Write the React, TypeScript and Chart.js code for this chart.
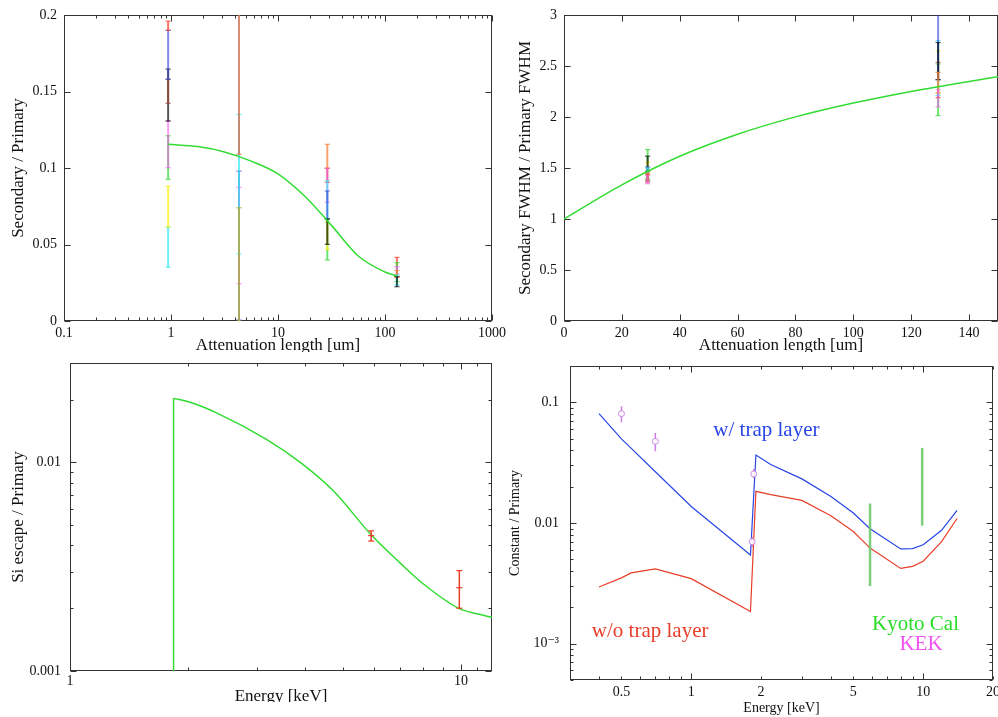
import { useEffect, useRef } from 'react';
import { Chart, registerables } from 'chart.js';

Chart.register(...registerables);

const SERIF = "'Liberation Serif', 'DejaVu Serif', serif";

// ---------------- shared ----------------
const ATTEN_LENGTHS = [0.94, 4.32, 28.9, 129.3];

// ---------------- top-left: Secondary / Primary vs attenuation length ----------------
const TL_X_TICKS = [0.1, 1, 10, 100, 1000];
const TL_X_LABELS = ['0.1', '1', '10', '100', '1000'];
const TL_Y_TICKS = [0, 0.05, 0.1, 0.15, 0.2];
const TL_Y_LABELS = ['0', '0.05', '0.1', '0.15', '0.2'];
const TL_FIT_X = [0.94, 1.78, 3.16, 5.62, 10, 17.8, 31.6, 56.2, 100, 129.3];
const TL_FIT_Y = [0.1155, 0.114, 0.1105, 0.1045, 0.0962, 0.0815, 0.0625, 0.0425, 0.032, 0.0294];
const TL_BARS_P1 = [[0.0351, 0.0614], [0.0614, 0.0882], [0.0926, 0.1211], [0.1002, 0.1307], [0.1307, 0.1647], [0.1423, 0.158], [0.158, 0.19], [0.19, 0.196]];
const TL_COLS_P1 = ['cyan', 'yellow', 'green', 'magenta', 'black', 'sienna', 'blue', 'red'];
const TL_BARS_P2 = [[0.0007, 0.098], [0.0244, 0.0874], [0.0438, 0.135], [0, 0.074], [0.109, 0.25]];
const TL_COLS_P2 = ['blue', 'magenta', 'cyan', 'olive', 'salmon'];
const TL_BARS_P3 = [[0.0906, 0.0998], [0.0998, 0.1155], [0.0776, 0.0998], [0.0645, 0.0917], [0.0667, 0.085], [0.0399, 0.0667], [0.0468, 0.0645], [0.0501, 0.0667]];
const TL_COLS_P3 = ['red', 'orange', 'magenta', 'cyan', 'blue', 'green', 'yellow', 'black'];
const TL_BARS_P4 = [[0.0286, 0.0416], [0.0257, 0.0381], [0.0307, 0.0355], [0.0286, 0.0329], [0.0235, 0.03], [0.0224, 0.029]];
const TL_COLS_P4 = ['red', 'green', 'magenta', 'orange', 'cyan', 'black'];

// ---------------- top-right: FWHM ratio ----------------
const TR_X_TICKS = [0, 20, 40, 60, 80, 100, 120, 140];
const TR_X_LABELS = ['0', '20', '40', '60', '80', '100', '120', '140'];
const TR_Y_TICKS = [0, 0.5, 1, 1.5, 2, 2.5, 3];
const TR_Y_LABELS = ['0', '0.5', '1', '1.5', '2', '2.5', '3'];
const TR_FIT_X = [0, 20, 40, 60, 80, 100, 120, 140, 150];
const TR_FIT_Y = [1.0, 1.335, 1.615, 1.831, 2.001, 2.137, 2.251, 2.349, 2.394];
const TR_BARS_P3 = [[1.4, 1.681], [1.427, 1.557], [1.469, 1.616], [1.381, 1.51], [1.37, 1.5], [1.38, 1.45], [1.362, 1.44], [1.346, 1.427]];
const TR_COLS_P3 = ['green', 'yellow', 'black', 'blue', 'cyan', 'orange', 'red', 'magenta'];
const TR_BARS_P4 = [[2.014, 2.52], [2.19, 2.535], [2.236, 2.65], [2.212, 2.75], [2.366, 3.05], [2.366, 2.73], [2.236, 2.437], [2.099, 2.268]];
const TR_COLS_P4 = ['green', 'red', 'yellow', 'cyan', 'blue', 'black', 'orange', 'magenta'];

// ---------------- bottom-left: Si escape ----------------
const BL_X_TICKS = [1, 10];
const BL_X_LABELS = ['1', '10'];
const BL_Y_TICKS = [0.001, 0.01];
const BL_Y_LABELS = ['0.001', '0.01'];
const BL_EDGE_E = [1.84, 1.84];
const BL_EDGE_Y = [0.001, 0.0203];
const BL_FIT_E = [1.84, 2.0, 2.37, 3.18, 3.91, 4.72, 5.89, 6.98, 8.0, 9.9, 11, 12];
const BL_FIT_Y = [0.0203, 0.0196, 0.0173, 0.0129, 0.0099, 0.0073, 0.0045, 0.0033, 0.00262, 0.00199, 0.00188, 0.00181];
const BL_DATA_E = [5.89, 9.9];
const BL_DATA_Y = [0.00446, 0.00251];
const BL_DATA_LO = [0.0042, 0.002];
const BL_DATA_HI = [0.0047, 0.00303];

// ---------------- bottom-right: Constant / Primary ----------------
const BR_X_TICKS = [0.5, 1, 2, 5, 10, 20];
const BR_X_LABELS = ['0.5', '1', '2', '5', '10', '20'];
const BR_Y_TICKS = [0.001, 0.01, 0.1];
const BR_Y_LABELS = ['10\u207B\u00B3', '0.01', '0.1'];
const BR_E = [0.4, 0.5, 0.55, 0.7, 1.0, 1.8, 1.9, 2.2, 3.0, 4.0, 5.0, 5.9, 8.0, 9.0, 10.0, 12.0, 14.0];
const BR_WITH_TRAP = [0.0806, 0.0498, 0.0417, 0.0266, 0.0137, 0.00543, 0.0366, 0.0305, 0.0232, 0.0166, 0.0121, 0.00897, 0.0061, 0.00614, 0.0066, 0.0087, 0.0127];
const BR_WITHOUT_TRAP = [0.00295, 0.00351, 0.00386, 0.00416, 0.00346, 0.00185, 0.0183, 0.0172, 0.0154, 0.0115, 0.0085, 0.0062, 0.0042, 0.00437, 0.00482, 0.007, 0.0109];
const KYOTO_E = [5.9, 9.9];
const KYOTO_LO = [0.003, 0.0095];
const KYOTO_HI = [0.0145, 0.0419];
const KEK_E = [0.5, 0.7, 1.86, 1.83];
const KEK_Y = [0.0806, 0.0475, 0.0255, 0.007];
const KEK_LO = [0.0683, 0.0393, 0.0235, 0.0063];
const KEK_HI = [0.0927, 0.0557, 0.028, 0.0077];
const BR_NOTE_TEXT = ['w/ trap layer', 'w/o trap layer', 'Kyoto Cal', 'KEK'];
const BR_NOTE_E = [1.245, 0.3727, 6.02, 7.9];
const BR_NOTE_Y = [0.053, 0.001138, 0.001306, 0.000881];

// ---------------- styles ----------------
const PAL: Record<string, string> = {
  red: 'rgba(245,60,40,0.7)',
  orange: 'rgba(245,130,60,0.75)',
  sienna: 'rgba(150,70,50,0.75)',
  green: 'rgba(50,215,50,0.7)',
  blue: 'rgba(50,60,220,0.6)',
  cyan: 'rgba(50,230,245,0.7)',
  magenta: 'rgba(245,90,240,0.6)',
  yellow: 'rgba(250,240,40,0.8)',
  olive: 'rgba(175,175,70,0.85)',
  black: 'rgba(0,0,0,0.65)',
  salmon: 'rgba(210,120,90,0.85)',
};
const FIT_GREEN = 'rgb(50,220,50)';
const LINE_BLUE = 'rgb(40,70,230)';
const LINE_RED = 'rgb(232,62,40)';
const NOTE_COLORS = [LINE_BLUE, LINE_RED, 'rgb(40,220,40)', 'rgb(240,80,240)'];

function decadeMinors(fromExp: number, toExp: number, lo: number, hi: number) {
  const out: number[] = [];
  for (let e = fromExp; e <= toExp; e++) {
    for (let m = 2; m <= 9; m++) {
      const v = m * Math.pow(10, e);
      if (v >= lo * 0.999 && v <= hi * 1.001) out.push(v);
    }
  }
  return out;
}

function pts(xs: number[], ys: number[]) {
  return xs.map((x, i) => ({ x, y: ys[i] }));
}

function barSets(x: number, bars: number[][], cols: string[]) {
  return bars.map(([lo, hi], i) => {
    const c = PAL[cols[i]];
    return {
      data: [{ x, y: lo }, { x, y: hi }],
      showLine: true,
      borderColor: c,
      borderWidth: 2,
      pointStyle: 'line',
      pointRadius: 2.6,
      pointHoverRadius: 0,
      pointBorderColor: c,
      pointBackgroundColor: c,
      pointBorderWidth: 1.2,
    };
  });
}

function curve(data: { x: number; y: number }[], color: string, width: number, smooth: boolean) {
  return {
    data,
    showLine: true,
    borderColor: color,
    borderWidth: width,
    pointRadius: 0,
    pointHoverRadius: 0,
    cubicInterpolationMode: smooth ? 'monotone' : 'default',
    tension: 0,
  };
}

type AxisCfg = {
  type: 'linear' | 'logarithmic';
  min: number;
  max: number;
  ticks: number[];
  labels: string[];
  size: number;
  title: string;
  titleSize: number;
  titlePad: number;
  tickSize: number;
  tickPad: number;
};

type Marks = { xMajor: number[]; xMinor: number[]; yMajor: number[]; yMinor: number[] };

type Note = { text: string; x: number; y: number; color: string; size: number };

type PanelCfg = {
  datasets: any[];
  x: AxisCfg;
  y: AxisCfg;
  padding: { left: number; right: number; top: number; bottom: number };
  marks: Marks;
  notes?: Note[];
};

function scaleOpts(a: AxisCfg, isX: boolean) {
  return {
    type: a.type,
    min: a.min,
    max: a.max,
    bounds: 'data',
    grid: { display: false, drawTicks: false, tickLength: 0 },
    border: { display: false },
    afterBuildTicks: (s: any) => {
      s.ticks = a.ticks.map((v) => ({ value: v }));
    },
    afterFit: (s: any) => {
      if (isX) s.height = a.size;
      else s.width = a.size;
      s.paddingTop = 0;
      s.paddingBottom = 0;
      s.paddingLeft = 0;
      s.paddingRight = 0;
    },
    ticks: {
      autoSkip: false,
      maxRotation: 0,
      minRotation: 0,
      padding: a.tickPad,
      color: '#111',
      font: { family: SERIF, size: a.tickSize },
      callback: (_v: any, i: number) => a.labels[i],
    },
    title: {
      display: true,
      text: a.title,
      color: '#111',
      font: { family: SERIF, size: a.titleSize },
      padding: isX ? { top: 0, bottom: a.titlePad } : { top: a.titlePad, bottom: 0 },
    },
  };
}

function framePlugin(marks: Marks) {
  return {
    id: 'frameTicks',
    beforeDatasetsDraw(chart: any) {
      const { ctx, chartArea: a, scales } = chart;
      const xs = scales.x;
      const ys = scales.y;
      const L = Math.round(a.left) + 0.5;
      const R = Math.round(a.right) - 0.5;
      const T = Math.round(a.top) + 0.5;
      const B = Math.round(a.bottom) - 0.5;
      ctx.save();
      ctx.strokeStyle = '#333';
      ctx.lineWidth = 1;
      ctx.strokeRect(L, T, R - L, B - T);
      ctx.beginPath();
      const tx = (v: number, len: number) => {
        const p = Math.round(xs.getPixelForValue(v)) + 0.5;
        if (p < L - 1 || p > R + 1) return;
        ctx.moveTo(p, B);
        ctx.lineTo(p, B - len);
        ctx.moveTo(p, T);
        ctx.lineTo(p, T + len);
      };
      const ty = (v: number, len: number) => {
        const p = Math.round(ys.getPixelForValue(v)) + 0.5;
        if (p < T - 1 || p > B + 1) return;
        ctx.moveTo(L, p);
        ctx.lineTo(L + len, p);
        ctx.moveTo(R, p);
        ctx.lineTo(R - len, p);
      };
      marks.xMajor.forEach((v) => tx(v, 6));
      marks.xMinor.forEach((v) => tx(v, 3));
      marks.yMajor.forEach((v) => ty(v, 6));
      marks.yMinor.forEach((v) => ty(v, 3));
      ctx.stroke();
      ctx.restore();
    },
  };
}

function notesPlugin(notes: Note[]) {
  return {
    id: 'notes',
    afterDatasetsDraw(chart: any) {
      const { ctx, scales } = chart;
      ctx.save();
      ctx.textAlign = 'left';
      ctx.textBaseline = 'alphabetic';
      notes.forEach((n) => {
        ctx.font = `${n.size}px ${SERIF}`;
        ctx.fillStyle = n.color;
        ctx.fillText(n.text, scales.x.getPixelForValue(n.x), scales.y.getPixelForValue(n.y));
      });
      ctx.restore();
    },
  };
}

function buildConfig(cfg: PanelCfg): any {
  return {
    type: 'scatter',
    data: { datasets: cfg.datasets.slice().reverse() },
    options: {
      responsive: false,
      animation: false,
      devicePixelRatio: 1,
      events: [],
      layout: { padding: cfg.padding },
      plugins: { legend: { display: false }, tooltip: { enabled: false } },
      scales: { x: scaleOpts(cfg.x, true), y: scaleOpts(cfg.y, false) },
    },
    plugins: [framePlugin(cfg.marks), notesPlugin(cfg.notes || [])],
  };
}

// ---------------- panel configs ----------------
const tlCfg: PanelCfg = {
  datasets: [
    ...barSets(ATTEN_LENGTHS[0], TL_BARS_P1, TL_COLS_P1),
    ...barSets(ATTEN_LENGTHS[1], TL_BARS_P2, TL_COLS_P2),
    ...barSets(ATTEN_LENGTHS[2], TL_BARS_P3, TL_COLS_P3),
    ...barSets(ATTEN_LENGTHS[3], TL_BARS_P4, TL_COLS_P4),
    curve(pts(TL_FIT_X, TL_FIT_Y), FIT_GREEN, 1.5, true),
  ],
  x: { type: 'logarithmic', min: 0.1, max: 1000, ticks: TL_X_TICKS, labels: TL_X_LABELS, size: 36, title: 'Attenuation length [um]', titleSize: 17, titlePad: 0.8, tickSize: 14, tickPad: 4 },
  y: { type: 'linear', min: 0, max: 0.2, ticks: TL_Y_TICKS, labels: TL_Y_LABELS, size: 64, title: 'Secondary / Primary', titleSize: 17, titlePad: 8.8, tickSize: 14, tickPad: 7 },
  padding: { left: 0, top: 15, right: 28, bottom: 13 },
  marks: { xMajor: TL_X_TICKS, xMinor: decadeMinors(-1, 2, 0.1, 1000), yMajor: TL_Y_TICKS, yMinor: [] },
};

const trCfg: PanelCfg = {
  datasets: [
    ...barSets(ATTEN_LENGTHS[2], TR_BARS_P3, TR_COLS_P3),
    ...barSets(ATTEN_LENGTHS[3], TR_BARS_P4, TR_COLS_P4),
    curve(pts(TR_FIT_X, TR_FIT_Y), FIT_GREEN, 1.5, true),
  ],
  x: { type: 'linear', min: 0, max: 150, ticks: TR_X_TICKS, labels: TR_X_LABELS, size: 36, title: 'Attenuation length [um]', titleSize: 17, titlePad: 0.8, tickSize: 14, tickPad: 4 },
  y: { type: 'linear', min: 0, max: 3, ticks: TR_Y_TICKS, labels: TR_Y_LABELS, size: 64, title: 'Secondary FWHM / Primary FWHM', titleSize: 17, titlePad: 15.3, tickSize: 14, tickPad: 7 },
  padding: { left: 0, top: 15, right: 14, bottom: 13 },
  marks: { xMajor: TR_X_TICKS, xMinor: [], yMajor: TR_Y_TICKS, yMinor: [] },
};

const blErrorSets = BL_DATA_E.map((e, i) => ({
  data: [{ x: e, y: BL_DATA_LO[i] }, { x: e, y: BL_DATA_Y[i] }, { x: e, y: BL_DATA_HI[i] }],
  showLine: true,
  borderColor: LINE_RED,
  borderWidth: 1.5,
  pointStyle: 'line',
  pointRadius: 3,
  pointHoverRadius: 0,
  pointBorderColor: LINE_RED,
  pointBorderWidth: 1.2,
}));

const blCfg: PanelCfg = {
  datasets: [
    curve(pts(BL_EDGE_E, BL_EDGE_Y), FIT_GREEN, 1.5, false),
    curve(pts(BL_FIT_E, BL_FIT_Y), FIT_GREEN, 1.5, true),
    ...blErrorSets,
  ],
  x: { type: 'logarithmic', min: 1, max: 12, ticks: BL_X_TICKS, labels: BL_X_LABELS, size: 37, title: 'Energy [keV]', titleSize: 17, titlePad: 0.8, tickSize: 14, tickPad: 1.6 },
  y: { type: 'logarithmic', min: 0.001, max: 0.03, ticks: BL_Y_TICKS, labels: BL_Y_LABELS, size: 70, title: 'Si escape / Primary', titleSize: 17, titlePad: 8.1, tickSize: 14, tickPad: 9 },
  padding: { left: 0, top: 11, right: 8, bottom: 14 },
  marks: { xMajor: BL_X_TICKS, xMinor: [...decadeMinors(0, 0, 1, 12), 11], yMajor: BL_Y_TICKS, yMinor: decadeMinors(-3, -2, 0.001, 0.03) },
};

const kyotoSets = KYOTO_E.map((e, i) => ({
  data: [{ x: e, y: KYOTO_LO[i] }, { x: e, y: KYOTO_HI[i] }],
  showLine: true,
  borderColor: 'rgba(110,200,110,0.9)',
  borderWidth: 2.5,
  pointRadius: 0,
  pointHoverRadius: 0,
}));
const kekBarSets = KEK_E.map((e, i) => ({
  data: [{ x: e, y: KEK_LO[i] }, { x: e, y: KEK_HI[i] }],
  showLine: true,
  borderColor: 'rgba(200,110,220,0.9)',
  borderWidth: 1.5,
  pointRadius: 0,
  pointHoverRadius: 0,
}));
const kekPointSet = {
  data: pts(KEK_E, KEK_Y),
  showLine: false,
  pointStyle: 'circle',
  pointRadius: 3,
  pointHoverRadius: 0,
  pointBorderColor: 'rgba(200,140,225,1)',
  pointBackgroundColor: 'rgba(255,255,255,0.9)',
  pointBorderWidth: 1,
};

const brCfg: PanelCfg = {
  datasets: [
    curve(pts(BR_E, BR_WITHOUT_TRAP), LINE_RED, 1.2, false),
    curve(pts(BR_E, BR_WITH_TRAP), LINE_BLUE, 1.2, false),
    ...kyotoSets,
    ...kekBarSets,
    kekPointSet,
  ],
  x: { type: 'logarithmic', min: 0.3, max: 20, ticks: BR_X_TICKS, labels: BR_X_LABELS, size: 37, title: 'Energy [keV]', titleSize: 14, titlePad: 0.6, tickSize: 14, tickPad: 3.6 },
  y: { type: 'logarithmic', min: 0.0005, max: 0.2, ticks: BR_Y_TICKS, labels: BR_Y_LABELS, size: 70, title: 'Constant / Primary', titleSize: 14, titlePad: 6.6, tickSize: 14, tickPad: 11 },
  padding: { left: 0, top: 14, right: 17, bottom: 0 },
  marks: {
    xMajor: [1, 10],
    xMinor: decadeMinors(-1, 1, 0.3, 20),
    yMajor: BR_Y_TICKS,
    yMinor: decadeMinors(-4, -1, 0.0005, 0.2),
  },
  notes: BR_NOTE_TEXT.map((t, i) => ({ text: t, x: BR_NOTE_E[i], y: BR_NOTE_Y[i], color: NOTE_COLORS[i], size: 21 })),
};

function Panel({ cfg, left, top, width, height, cw, ch }: { cfg: PanelCfg; left: number; top: number; width: number; height: number; cw: number; ch: number }) {
  const ref = useRef<HTMLCanvasElement>(null);
  useEffect(() => {
    const chart = new Chart(ref.current as HTMLCanvasElement, buildConfig(cfg));
    return () => chart.destroy();
  }, [cfg]);
  return (
    <div style={{ position: 'absolute', left, top, width, height, overflow: 'hidden' }}>
      <canvas ref={ref} width={cw} height={ch} style={{ display: 'block', width: cw, height: ch }} />
    </div>
  );
}

export default function App() {
  return (
    <div style={{ position: 'absolute', left: 0, top: 0, width: 998, height: 717, overflow: 'hidden', background: '#fff' }}>
      <Panel cfg={tlCfg} left={0} top={0} width={520} height={352} cw={520} ch={370} />
      <Panel cfg={trCfg} left={500} top={0} width={498} height={352} cw={512} ch={370} />
      <Panel cfg={blCfg} left={0} top={352} width={500} height={350} cw={500} ch={370} />
      <Panel cfg={brCfg} left={500} top={352} width={498} height={365} cw={510} ch={365} />
    </div>
  );
}
